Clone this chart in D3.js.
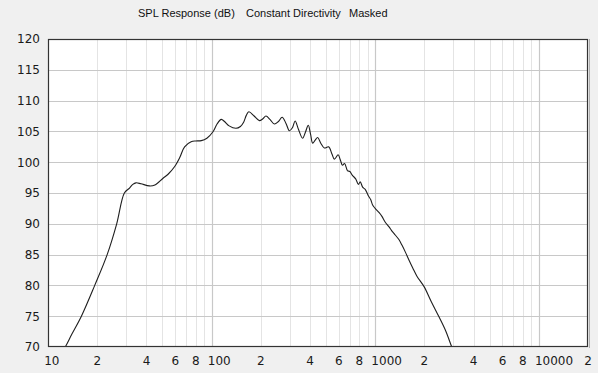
<!DOCTYPE html>
<html>
<head>
<meta charset="utf-8">
<script src="https://cdn.jsdelivr.net/npm/d3@7"></script>
<style>
html,body{margin:0;padding:0;background:#f0f0f0;}
svg{display:block;}
</style>
</head>
<body>
<svg id="chart" width="598" height="373"></svg>
<script>
const titleParts = ["SPL Response (dB)", "Constant Directivity", "Masked"];
const freq = [11.5, 12.75, 14, 16, 19.3, 23, 26.3, 29.3, 31.5, 33, 34.5, 37, 41.7, 45, 50.5, 54, 59.5, 64, 68.4, 75, 80, 86.5, 93.6, 102, 108, 114.6, 120, 128, 141, 150, 157, 163, 169, 182, 196, 205, 215, 228, 242, 256, 270, 285, 299, 312, 324, 340, 360, 375, 390, 403, 415, 430, 445, 467, 489, 519, 545, 563, 594, 612, 631, 650, 678, 700, 724, 760, 790, 810, 840, 869, 910, 940, 963, 1000, 1058, 1100, 1150, 1216, 1260, 1306, 1400, 1460, 1530, 1611, 1700, 1800, 1990, 2200, 2455, 2700, 2940, 3100];
const spl = [68.0, 70.0, 72.1, 75.0, 80.0, 85.0, 90.0, 95.0, 95.8, 96.4, 96.65, 96.5, 96.15, 96.3, 97.4, 98.0, 99.3, 100.8, 102.5, 103.3, 103.45, 103.5, 103.9, 104.95, 106.2, 106.95, 106.6, 105.9, 105.5, 105.8, 106.5, 107.6, 108.2, 107.5, 106.75, 107.0, 107.5, 106.9, 106.2, 106.6, 107.3, 106.3, 105.1, 105.6, 106.7, 105.3, 103.9, 104.9, 106.0, 104.5, 103.1, 103.6, 104.0, 103.0, 102.3, 102.5, 101.3, 100.5, 101.2, 100.4, 99.5, 99.8, 98.6, 98.5, 97.9, 97.3, 96.4, 96.8, 95.9, 95.6, 94.5, 93.9, 93.1, 92.5, 91.8, 91.2, 90.3, 89.5, 88.9, 88.4, 87.4, 86.5, 85.4, 84.1, 82.8, 81.5, 79.8, 77.4, 74.9, 72.6, 70.0, 68.5];
const xTickValues = [10, 20, 40, 60, 80, 100, 200, 400, 600, 800, 1000, 2000, 4000, 6000, 8000, 10000, 20000];
const xTickLabels = ["10", "2", "4", "6", "8", "100", "2", "4", "6", "8", "1000", "2", "4", "6", "8", "10000", "2"];
const yTickValues = [70, 75, 80, 85, 90, 95, 100, 105, 110, 115, 120];

const svg = d3.select("#chart");
const L = 48, R = 588, T = 39, B = 347;
const x = d3.scaleLog().domain([10, 20000]).range([L, R]);
const y = d3.scaleLinear().domain([70, 120]).range([B, T]);

svg.append("rect").attr("x", L).attr("y", T).attr("width", R - L).attr("height", B - T).attr("fill", "#ffffff");

// minor vertical grid
const minor = [];
[10, 100, 1000, 10000].forEach(d => { for (let k = 2; k <= 9; k++) { const v = d * k; if (v < 20000) minor.push(v); } });
svg.append("g").selectAll("line").data(minor).join("line")
  .attr("x1", d => Math.round(x(d)) + 0.5).attr("x2", d => Math.round(x(d)) + 0.5)
  .attr("y1", T).attr("y2", B).attr("stroke", "#e4e4e4").attr("stroke-width", 1);
// major vertical grid
svg.append("g").selectAll("line").data([100, 1000, 10000]).join("line")
  .attr("x1", d => Math.round(x(d)) + 0.5).attr("x2", d => Math.round(x(d)) + 0.5)
  .attr("y1", T).attr("y2", B).attr("stroke", "#c8c8c8").attr("stroke-width", 1.2);
// horizontal grid
svg.append("g").selectAll("line").data(yTickValues.slice(1, -1)).join("line")
  .attr("x1", L).attr("x2", R)
  .attr("y1", d => Math.round(y(d)) + 0.5).attr("y2", d => Math.round(y(d)) + 0.5)
  .attr("stroke", "#c8c8c8").attr("stroke-width", 1.2);

// curve
svg.append("defs").append("clipPath").attr("id", "clip")
  .append("rect").attr("x", L).attr("y", T).attr("width", R - L).attr("height", B - T);
const pts = freq.map((f, i) => [f, spl[i]]);
svg.append("path").datum(pts)
  .attr("clip-path", "url(#clip)")
  .attr("fill", "none").attr("stroke", "#1e1e1e").attr("stroke-width", 1.1)
  .attr("d", d3.line().x(d => x(d[0])).y(d => y(d[1])).curve(d3.curveCatmullRom.alpha(0.5)));

// frame
svg.append("line").attr("x1", R + 1.5).attr("x2", R + 1.5).attr("y1", T).attr("y2", B + 1).attr("stroke", "#b0b0b0");
svg.append("rect").attr("x", L + 0.5).attr("y", T + 0.5).attr("width", R - L - 1).attr("height", B - T - 1)
  .attr("fill", "none").attr("stroke", "#333333").attr("stroke-width", 1.2);

// y labels
svg.append("g").selectAll("text").data(yTickValues).join("text")
  .attr("x", 40).attr("y", d => y(d)).attr("dy", "0.36em")
  .attr("text-anchor", "end")
  .attr("font-family", "DejaVu Sans").attr("font-size", 12).attr("fill", "#1a1a1a")
  .text(d => d);

// x labels
svg.append("g").selectAll("text").data(xTickValues).join("text")
  .attr("x", d => x(d) - 3.8).attr("y", 365)
  .attr("text-anchor", "start")
  .attr("font-family", "DejaVu Sans").attr("font-size", 12).attr("fill", "#1a1a1a")
  .text((d, i) => xTickLabels[i]);

// title
const titleX = [138, 246, 349];
svg.append("g").selectAll("text").data(titleParts).join("text")
  .attr("x", (d, i) => titleX[i]).attr("y", 16.5)
  .attr("font-family", "Liberation Sans").attr("font-size", 11).attr("fill", "#111")
  .text(d => d);
</script>
</body>
</html>
